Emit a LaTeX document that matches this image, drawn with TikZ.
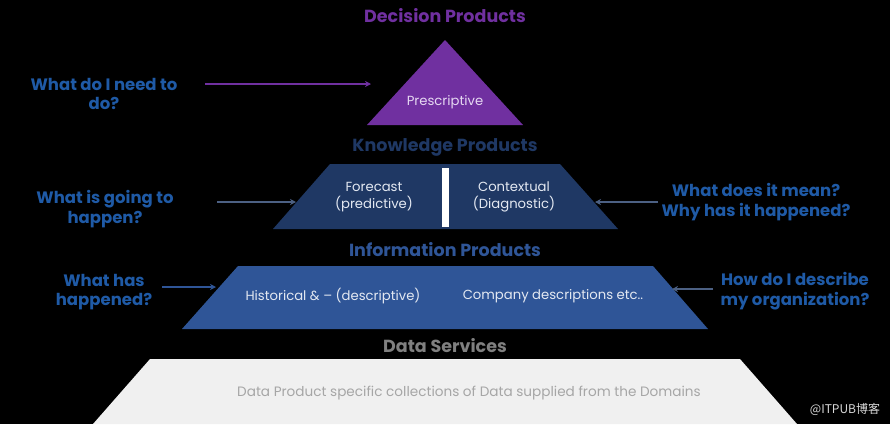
\documentclass[tikz,border=0pt]{standalone}
\usepackage{fontspec}
\setmainfont{Poppins}
\newfontfamily\cjk{Noto Sans CJK SC}
\usetikzlibrary{arrows.meta}
\definecolor{dpurple}{HTML}{7030A0}
\definecolor{kblue}{HTML}{1F3864}
\definecolor{iblue}{HTML}{2F5597}
\definecolor{qblue}{HTML}{1F5AA6}
\definecolor{dgray}{HTML}{808080}
\definecolor{dfill}{HTML}{F0F0F0}
\definecolor{dtext}{HTML}{A6A6A6}
\definecolor{ptext}{HTML}{E6D8F2}
\definecolor{ktext}{HTML}{E4E9F2}
\tikzset{
  ttl/.style={font=\bfseries\fontsize{17.5}{19}\selectfont},
  qtext/.style={font=\bfseries\fontsize{16.5}{19.5}\selectfont, text=qblue, align=center},
  intext/.style={font=\fontsize{13.2}{17.5}\selectfont, align=center, text=ktext},
  arr/.style={-{Stealth[length=6pt,width=6pt]}, line width=1.3pt},
}
\begin{document}
\begin{tikzpicture}[x=1pt,y=-1pt]
\fill[black] (0,0) rectangle (890,424);
\useasboundingbox (0,0) rectangle (890,424);

% shapes
\fill[dpurple] (445,40) -- (523,125) -- (367,125) -- cycle;
\fill[kblue] (330,164) -- (560,164) -- (618,229) -- (273,229) -- cycle;
\fill[white] (442,168) rectangle (449,227);
\fill[iblue] (238,266) -- (653,266) -- (708,329) -- (182,329) -- cycle;
\fill[dfill] (150,359) -- (740,359) -- (797,424) -- (93,424) -- cycle;

% titles
\node[ttl, text=dpurple] (tdec) at (445,16) {Decision Products};
\node[ttl, text=kblue] (tkno) at (445,147) {Knowledge Products};
\node[ttl, text=iblue] (tinf) at (445,250) {Information Products};
\node[ttl, text=dgray] (tdat) at (445,346) {Data Services};

% inner texts
\node[intext, text=ptext] (presc) at (445,102) {Prescriptive};
\node[intext] (fore) at (374,197) {Forecast\\(predictive)};
\node[intext] (cont) at (514,197) {Contextual\\(Diagnostic)};
\node[intext] (hist) at (333,296) {Historical \& – (descriptive)};
\node[intext] (comp) at (553,296) {Company descriptions etc..};
\node[font=\fontsize{13.6}{15}\selectfont, text=dtext] (dtxt) at (469,393) {Data Product specific collections of Data supplied from the Domains};

% questions
\node[qtext] (q1) at (104,94) {What do I need to\\do?};
\node[qtext] (q2) at (105,209) {What is going to\\happen?};
\node[qtext] (q3) at (756,202) {What does it mean?\\Why has it happened?};
\node[qtext] (q4) at (104,292) {What has\\happened?};
\node[qtext] (q5) at (795,291) {How do I describe\\my organization?};

% arrow end points
\coordinate (a1s) at (205,84);  \coordinate (a1e) at (371,84);
\coordinate (a2s) at (217,202); \coordinate (a2e) at (296,202);
\coordinate (a3s) at (658,202); \coordinate (a3e) at (595,202);
\coordinate (a4s) at (162,287); \coordinate (a4e) at (216,287);
\coordinate (a5s) at (713,289); \coordinate (a5e) at (672,289);

\draw[arr, dpurple] (a1s) -- (a1e);
\draw[arr, kblue!80!white] (a2s) -- (a2e);
\draw[arr, kblue!80!white] (a3s) -- (a3e);
\draw[arr, iblue] (a4s) -- (a4e);
\draw[arr, kblue!80!white] (a5s) -- (a5e);

% watermark
\node[font=\cjk\fontsize{12}{14}\selectfont, text=white!85!black] (wm) at (845,409) {@ITPUB博客};
\end{tikzpicture}
\end{document}
